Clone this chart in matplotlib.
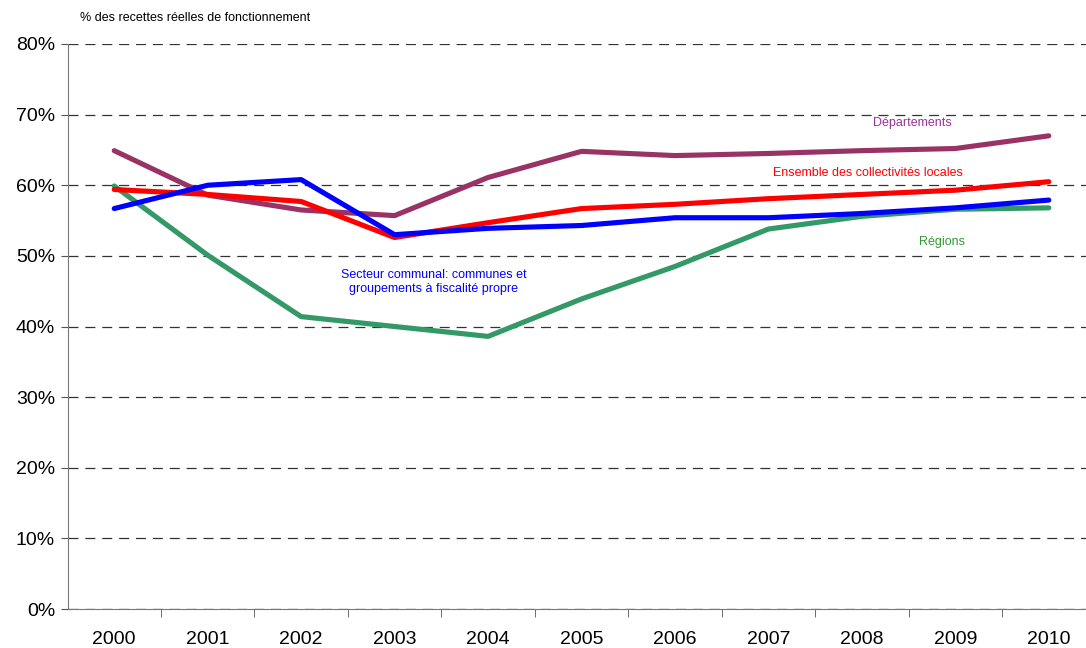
"""Part des dépenses de personnel etc. -- lignes par niveau de collectivité."""

import matplotlib
matplotlib.use('Agg')
import matplotlib.pyplot as plt
from matplotlib.ticker import FuncFormatter, FixedLocator

plt.rcParams['font.family'] = ['Liberation Sans', 'DejaVu Sans']

years = ['2000', '2001', '2002', '2003', '2004', '2005',
         '2006', '2007', '2008', '2009', '2010']

departements = [64.9, 58.6, 56.5, 55.7, 61.1, 64.8, 64.2, 64.5, 64.9, 65.2, 67.0]
ensemble = [59.4, 58.7, 57.7, 52.6, 54.7, 56.7, 57.3, 58.1, 58.7, 59.3, 60.5]
communal = [56.7, 60.0, 60.8, 53.0, 53.9, 54.3, 55.4, 55.4, 56.0, 56.8, 57.9]
regions = [59.9, 50.1, 41.4, 40.0, 38.6, 43.9, 48.5, 53.8, 55.6, 56.6, 56.8]

C_DEP = '#993366'
C_ENS = '#ff0000'
C_COM = '#0000ff'
C_REG = '#339966'

fig = plt.figure(figsize=(10.86, 6.48), dpi=100)
# axes spans a bit past the right edge, as in the original export
ax = fig.add_axes([67.5 / 1086, 39 / 648, 1028 / 1086, 565 / 648])

x = range(len(years))
ax.plot(x, departements, color=C_DEP, lw=3.7, solid_capstyle='round', zorder=3)
ax.plot(x, regions, color=C_REG, lw=3.7, solid_capstyle='round', zorder=3)
ax.plot(x, ensemble, color=C_ENS, lw=3.7, solid_capstyle='round', zorder=4)
ax.plot(x, communal, color=C_COM, lw=3.7, solid_capstyle='round', zorder=5)

ax.set_xlim(-0.5, 10.5)
ax.set_ylim(0, 80)

# y axis
ax.set_yticks(range(0, 81, 10))
ax.yaxis.set_major_formatter(FuncFormatter(lambda v, p: f'{v:.0f}%'))
ax.yaxis.grid(True, ls=(0, (8, 5.5)), color='#333333', lw=0.9)
ax.set_axisbelow(True)

# x axis: category labels centred, ticks between categories
ax.set_xticks(list(x))
ax.set_xticklabels(years)
ax.xaxis.set_minor_locator(FixedLocator([i + 0.5 for i in range(10)]))
ax.tick_params(axis='x', which='major', length=0, pad=16, labelsize=14)
ax.tick_params(axis='x', which='minor', length=6, color='#555555')
ax.tick_params(axis='y', length=5, color='#555555', labelsize=14, pad=4)

for side in ('top', 'right'):
    ax.spines[side].set_visible(False)
for side in ('left', 'bottom'):
    ax.spines[side].set_color('#777777')

fig.text(80 / 1086, 1 - 18 / 648, '% des recettes réelles de fonctionnement',
         fontsize=9, va='center', ha='left')

# series labels
ax.text(8.54, 68.8, 'Départements', color='#993399', fontsize=9,
        ha='center', va='center')
ax.text(8.06, 61.8, 'Ensemble des collectivités locales', color=C_ENS,
        fontsize=9, ha='center', va='center')
ax.text(8.86, 51.9, 'Régions', color='#339933', fontsize=9,
        ha='center', va='center')
ax.text(3.42, 46.3, 'Secteur communal: communes et\ngroupements à fiscalité propre',
        color=C_COM, fontsize=9, ha='center', va='center', linespacing=1.3)

fig.savefig('out.png', dpi=100)
